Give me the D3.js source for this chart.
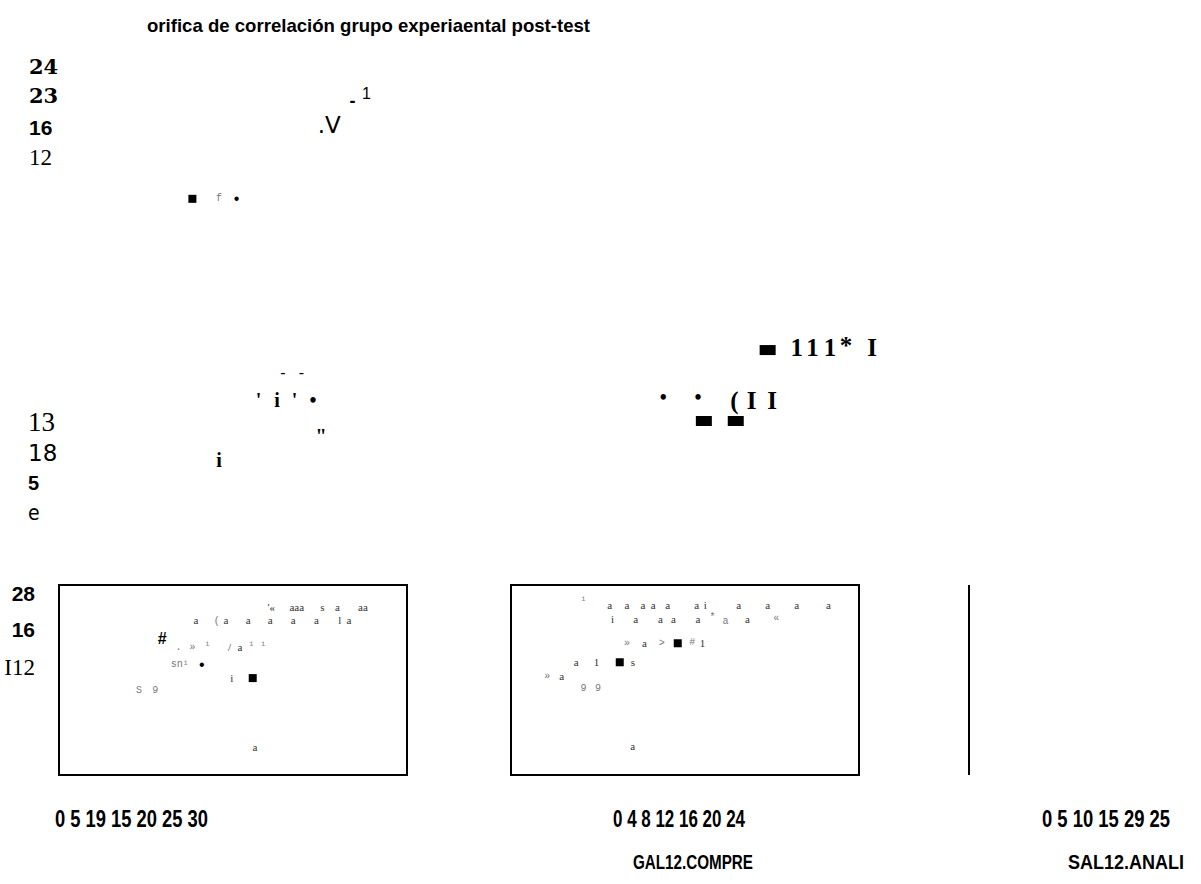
<!DOCTYPE html>
<html>
<head>
<meta charset="utf-8">
<script src="https://cdn.jsdelivr.net/npm/d3@7"></script>
<style>
body { margin: 0; background: #fff; }
text { fill: #000; }
.title { font: bold 19px "Liberation Sans", Arial, sans-serif; }
.tick { font: bold 23px "Liberation Sans Narrow", "Liberation Sans", Arial, sans-serif; }
.coltitle { font: bold 20px "Liberation Sans Narrow", "Liberation Sans", Arial, sans-serif; }
.lab-mono { font: bold 21px "DejaVu Serif", serif; }
.lab-bold { font: bold 21px "Liberation Sans", Arial, sans-serif; }
.lab-nserif { font: 23px "Liberation Serif", serif; }
.lab-serif { font: 27px "Liberation Serif", serif; }
.lab-sans { font: 23px "DejaVu Sans", sans-serif; }
.lab-bnarrow { font: bold 20px "Liberation Sans Narrow", "Liberation Sans", sans-serif; }
.lab-narrow { font: 21px "DejaVu Sans Condensed", "DejaVu Sans", sans-serif; }
.g-serif { font: 11px "Liberation Serif", serif; fill: #333; }
.g-mono { font: 10px "Liberation Mono", monospace; fill: #777; }
.g-bserif { font: bold 20px "Liberation Serif", serif; }
.g-bigserif { font: bold 25px "Liberation Serif", serif; }
.g-sans { font: 16px "Liberation Sans", Arial, sans-serif; }
.g-dash { font: bold 18px "Liberation Sans", Arial, sans-serif; }
.g-big { font: 23px "DejaVu Sans", sans-serif; }
.g-hash { font: bold 16px "Liberation Sans", Arial, sans-serif; }
</style>
</head>
<body>
<svg id="chart" width="1201" height="884"></svg>
<script>
// ---- data ----
var title = "orifica de correlación grupo experiaental post-test";
var colDomains = [[0, 30], [0, 24], [0, 25]];
var yDomain = [0, 30];
var colTicks = [
    ["0", "5", "19", "15", "20", "25", "30"],
    ["0", "4", "8", "12", "16", "20", "24"],
    ["0", "5", "10", "15", "29", "25"]
];
var colTitles = ["", "GAL12.COMPRE", "SAL12.ANALI"];

// row labels: text + where it sits on the row's y scale
var rowLabels = [
    [{t: "24", v: 27.4}, {t: "23", v: 22.8}, {t: "16", v: 17.7}, {t: "12", v: 13.1}],
    [{t: "13", v: 17.8}, {t: "18", v: 13.0}, {t: "5", v: 8.2}, {t: "e", v: 3.5}],
    [{t: "28", v: 28.6}, {t: "16", v: 22.9}, {t: "I12", v: 17.0}]
];

// glyph points: r = row, c = column, x/y in panel units
var serifGlyphs = [
    // row 3, col 1
    {r: 2, c: 0, x: 18.3, y: 26.6, t: "'«"}, {r: 2, c: 0, x: 20.5, y: 26.6, t: "aaa"},
    {r: 2, c: 0, x: 22.7, y: 26.6, t: "s"}, {r: 2, c: 0, x: 24.0, y: 26.6, t: "a"},
    {r: 2, c: 0, x: 26.2, y: 26.6, t: "aa"},
    {r: 2, c: 0, x: 11.8, y: 24.5, t: "a"}, {r: 2, c: 0, x: 14.4, y: 24.5, t: "a"},
    {r: 2, c: 0, x: 16.3, y: 24.5, t: "a"}, {r: 2, c: 0, x: 18.2, y: 24.5, t: "a"},
    {r: 2, c: 0, x: 20.2, y: 24.5, t: "a"}, {r: 2, c: 0, x: 22.2, y: 24.5, t: "a"},
    {r: 2, c: 0, x: 24.2, y: 24.5, t: "l"}, {r: 2, c: 0, x: 25.0, y: 24.5, t: "a"},
    {r: 2, c: 0, x: 14.7, y: 20.2, t: "/"}, {r: 2, c: 0, x: 15.6, y: 20.2, t: "a"},
    {r: 2, c: 0, x: 14.9, y: 15.3, t: "i"}, {r: 2, c: 0, x: 16.9, y: 4.4, t: "a"},
    // row 3, col 2
    {r: 2, c: 1, x: 6.8, y: 26.8, t: "a"}, {r: 2, c: 1, x: 8.0, y: 26.8, t: "a"},
    {r: 2, c: 1, x: 9.1, y: 26.8, t: "a"}, {r: 2, c: 1, x: 9.8, y: 26.8, t: "a"},
    {r: 2, c: 1, x: 10.8, y: 26.8, t: "a"}, {r: 2, c: 1, x: 12.8, y: 26.8, t: "a"},
    {r: 2, c: 1, x: 13.4, y: 26.8, t: "i"}, {r: 2, c: 1, x: 15.7, y: 26.8, t: "a"},
    {r: 2, c: 1, x: 17.7, y: 26.8, t: "a"}, {r: 2, c: 1, x: 19.7, y: 26.8, t: "a"},
    {r: 2, c: 1, x: 21.9, y: 26.8, t: "a"},
    {r: 2, c: 1, x: 7.0, y: 24.7, t: "i"}, {r: 2, c: 1, x: 8.6, y: 24.7, t: "a"},
    {r: 2, c: 1, x: 10.3, y: 24.7, t: "a"}, {r: 2, c: 1, x: 11.2, y: 24.7, t: "a"},
    {r: 2, c: 1, x: 12.9, y: 24.7, t: "a"}, {r: 2, c: 1, x: 16.3, y: 24.7, t: "a"},
    {r: 2, c: 1, x: 9.2, y: 20.8, t: "a"}, {r: 2, c: 1, x: 13.2, y: 20.8, t: "1"},
    {r: 2, c: 1, x: 4.5, y: 17.8, t: "a"}, {r: 2, c: 1, x: 5.9, y: 17.8, t: "1"},
    {r: 2, c: 1, x: 8.4, y: 17.8, t: "s"}, {r: 2, c: 1, x: 3.5, y: 15.6, t: "a"},
    {r: 2, c: 1, x: 8.4, y: 4.6, t: "a"}
];
var monoGlyphs = [
    {r: 0, c: 0, x: 13.8, y: 6.6, t: "f"},
    {r: 2, c: 0, x: 13.6, y: 24.3, t: "("},
    {r: 2, c: 0, x: 10.3, y: 20.2, t: "."}, {r: 2, c: 0, x: 11.5, y: 20.2, t: "»"},
    {r: 2, c: 0, x: 12.8, y: 20.4, t: "¹"}, {r: 2, c: 0, x: 16.6, y: 20.4, t: "¹"},
    {r: 2, c: 0, x: 17.6, y: 20.4, t: "¹"}, {r: 2, c: 0, x: 10.4, y: 17.4, t: "sn¹"},
    {r: 2, c: 0, x: 6.9, y: 13.3, t: "S"}, {r: 2, c: 0, x: 8.3, y: 13.3, t: "9"},
    {r: 2, c: 1, x: 5.0, y: 27.6, t: "¹"}, {r: 2, c: 1, x: 13.9, y: 24.8, t: "*"},
    {r: 2, c: 1, x: 14.8, y: 24.3, t: "a"}, {r: 2, c: 1, x: 18.3, y: 24.7, t: "«"},
    {r: 2, c: 1, x: 8.0, y: 20.8, t: "»"}, {r: 2, c: 1, x: 10.4, y: 20.8, t: ">"},
    {r: 2, c: 1, x: 12.5, y: 20.9, t: "#"}, {r: 2, c: 1, x: 2.5, y: 15.6, t: "»"},
    {r: 2, c: 1, x: 5.0, y: 13.6, t: "9"}, {r: 2, c: 1, x: 6.0, y: 13.6, t: "9"}
];
var boldSerifGlyphs = [
    {r: 1, c: 0, x: 17.2, y: 21.3, t: "'"}, {r: 1, c: 0, x: 18.8, y: 21.3, t: "i"},
    {r: 1, c: 0, x: 20.3, y: 21.3, t: "'"}, {r: 1, c: 0, x: 21.9, y: 21.3, t: "•"},
    {r: 1, c: 0, x: 22.6, y: 15.6, t: "\""}, {r: 1, c: 0, x: 13.8, y: 11.8, t: "i"},
    {r: 1, c: 1, x: 10.5, y: 21.8, t: "•"}, {r: 1, c: 1, x: 12.9, y: 21.8, t: "•"}
];
var bigSerifGlyphs = [
    {r: 1, c: 1, x: 19.7, y: 29.6, t: "1"}, {r: 1, c: 1, x: 20.8, y: 29.6, t: "1"},
    {r: 1, c: 1, x: 22.0, y: 29.6, t: "1"}, {r: 1, c: 1, x: 23.1, y: 30.0, t: "*"},
    {r: 1, c: 1, x: 24.9, y: 29.6, t: "I"},
    {r: 1, c: 1, x: 15.4, y: 21.2, t: "("}, {r: 1, c: 1, x: 16.6, y: 21.3, t: "I"},
    {r: 1, c: 1, x: 18.0, y: 21.3, t: "I"}
];
var sansGlyphs = [
    {r: 0, c: 0, x: 26.5, y: 23.2, t: "1"},
    {r: 0, c: 0, x: 15.3, y: 6.6, t: "•"}, {r: 2, c: 0, x: 12.3, y: 17.4, t: "•"},
    {r: 1, c: 0, x: 19.3, y: 25.6, t: "-"}, {r: 1, c: 0, x: 20.9, y: 25.6, t: "-"}
];
var dashGlyphs = [{r: 0, c: 0, x: 25.3, y: 22.0, t: "-"}];
var bigGlyphs = [{r: 0, c: 0, x: 23.3, y: 18.2, t: ".V"}];
var hashGlyphs = [{r: 2, c: 0, x: 8.9, y: 21.6, t: "#"}];
var squares = [
    {r: 0, c: 0, x: 11.5, y: 6.5}, {r: 2, c: 0, x: 16.7, y: 15.3},
    {r: 2, c: 1, x: 11.5, y: 20.8}, {r: 2, c: 1, x: 7.5, y: 17.8}
];
var bars = [
    {r: 1, c: 1, x: 17.7, y: 29.2}, {r: 1, c: 1, x: 13.3, y: 18.0}, {r: 1, c: 1, x: 15.5, y: 18.0}
];

// ---- layout ----
var colRanges = [[59, 407], [511, 859], [969, 1317]];
var rowRanges = [[240, 50], [535, 345], [775, 585]];
var rowLabelStyles = [
    ["lab-mono", "lab-mono", "lab-bold", "lab-nserif"],
    ["lab-serif", "lab-sans", "lab-bnarrow", "lab-narrow"],
    ["lab-bold", "lab-bold", "lab-nserif"]
];
var rowLabelPos = [{x: 29, anchor: "start"}, {x: 28, anchor: "start"}, {x: 35, anchor: "end"}];
var tickX = [55, 613, 1042], tickW = [153, 132, 128];
var colTitleX = [0, 633, 1068], colTitleW = [0, 120, 116];

var svg = d3.select("#chart");

var xs = colDomains.map(function (d, i) {
    return d3.scaleLinear().domain(d).range(colRanges[i]);
});
var ys = rowRanges.map(function (r) {
    return d3.scaleLinear().domain(yDomain).range(r);
});

svg.append("text").attr("class", "title")
    .attr("x", 147).attr("y", 32)
    .attr("textLength", 443).attr("lengthAdjust", "spacingAndGlyphs")
    .text(title);

// row labels
rowLabels.forEach(function (labs, r) {
    svg.selectAll(null).data(labs).enter().append("text")
        .attr("class", function (d, i) { return rowLabelStyles[r][i]; })
        .attr("x", rowLabelPos[r].x)
        .attr("y", function (d) { return ys[r](d.v); })
        .attr("text-anchor", rowLabelPos[r].anchor)
        .attr("dominant-baseline", "central")
        .text(function (d) { return d.t; });
});

// panel frames on the bottom row
[0, 1].forEach(function (c) {
    var x0 = xs[c].range()[0], x1 = xs[c].range()[1];
    var y0 = ys[2].range()[1], y1 = ys[2].range()[0];
    svg.append("rect")
        .attr("x", x0).attr("y", y0)
        .attr("width", x1 - x0).attr("height", y1 - y0)
        .attr("fill", "none").attr("stroke", "#000").attr("stroke-width", 2);
});
svg.append("line")
    .attr("x1", xs[2](0)).attr("x2", xs[2](0))
    .attr("y1", ys[2].range()[1]).attr("y2", ys[2].range()[0])
    .attr("stroke", "#000").attr("stroke-width", 2);

// tick label strings and column titles
colTicks.forEach(function (ticks, c) {
    svg.append("text").attr("class", "tick")
        .attr("x", tickX[c]).attr("y", 827)
        .attr("textLength", tickW[c]).attr("lengthAdjust", "spacingAndGlyphs")
        .text(ticks.join(" "));
    if (colTitles[c]) {
        svg.append("text").attr("class", "coltitle")
            .attr("x", colTitleX[c]).attr("y", 869)
            .attr("textLength", colTitleW[c]).attr("lengthAdjust", "spacingAndGlyphs")
            .text(colTitles[c]);
    }
});

function glyphs(data, cls) {
    svg.selectAll(null).data(data).enter().append("text")
        .attr("class", cls)
        .attr("x", function (d) { return xs[d.c](d.x); })
        .attr("y", function (d) { return ys[d.r](d.y); })
        .attr("text-anchor", "middle")
        .attr("dominant-baseline", "central")
        .text(function (d) { return d.t; });
}
glyphs(serifGlyphs, "g-serif");
glyphs(monoGlyphs, "g-mono");
glyphs(boldSerifGlyphs, "g-bserif");
glyphs(bigSerifGlyphs, "g-bigserif");
glyphs(sansGlyphs, "g-sans");
glyphs(dashGlyphs, "g-dash");
glyphs(bigGlyphs, "g-big");
glyphs(hashGlyphs, "g-hash");

svg.selectAll(null).data(squares).enter().append("rect")
    .attr("x", function (d) { return xs[d.c](d.x) - 4; })
    .attr("y", function (d) { return ys[d.r](d.y) - 4; })
    .attr("width", 8).attr("height", 8)
    .attr("fill", "#000");

svg.selectAll(null).data(bars).enter().append("rect")
    .attr("x", function (d) { return xs[d.c](d.x) - 8; })
    .attr("y", function (d) { return ys[d.r](d.y) - 5; })
    .attr("width", 16).attr("height", 10)
    .attr("fill", "#000");
</script>
</body>
</html>
